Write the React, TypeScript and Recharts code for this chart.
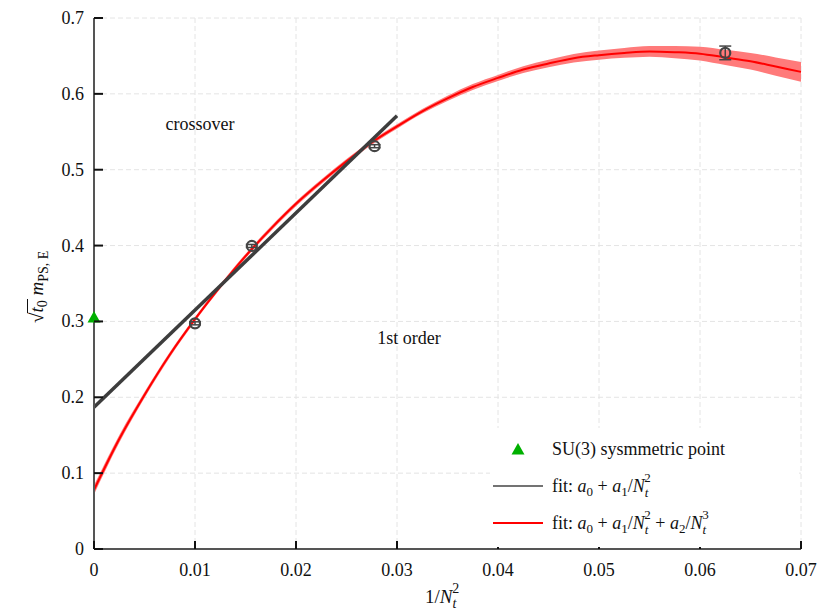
import React from 'react';
import { ComposedChart, XAxis, YAxis, CartesianGrid, Line, Area, Scatter, ErrorBar } from 'recharts';

const FONT = "'Liberation Serif', 'Times New Roman', serif";

const xTicks = [0, 0.01, 0.02, 0.03, 0.04, 0.05, 0.06, 0.07];
const yTicks = [0, 0.1, 0.2, 0.3, 0.4, 0.5, 0.6, 0.7];

// lattice data points (1/Nt^2 for Nt = 10, 8, 6, 4)
const latticeX = [0.01, 0.015625, 0.027778, 0.0625];
const latticeY = [0.2975, 0.3995, 0.531, 0.654];
const latticeErr = [0.002, 0.002, 0.002, 0.009];

// SU(3) symmetric point
const su3X = [0];
const su3Y = [0.3045];

// linear fit a0 + a1/Nt^2
const linFitX = [0, 0.03];
const linFitY = [0.187, 0.571];

// fit a0 + a1/Nt^2 + a2/Nt^3
const cubicFitX = [0, 0.0025, 0.005, 0.0075, 0.01, 0.0125, 0.015, 0.0175, 0.02, 0.0225, 0.025, 0.0275, 0.03, 0.0325, 0.035, 0.0375, 0.04, 0.0425, 0.045, 0.0475, 0.05, 0.0525, 0.055, 0.0575, 0.06, 0.0625, 0.065, 0.0675, 0.07];
const cubicFitY = [0.078, 0.145, 0.203, 0.256, 0.303, 0.346, 0.386, 0.422, 0.455, 0.484, 0.511, 0.536, 0.557, 0.577, 0.594, 0.609, 0.621, 0.632, 0.640, 0.647, 0.651, 0.654, 0.656, 0.655, 0.653, 0.648, 0.643, 0.636, 0.629];
const cubicFitErr = [0.006, 0.005, 0.004, 0.0035, 0.003, 0.003, 0.003, 0.003, 0.003, 0.003, 0.003, 0.003, 0.003, 0.003, 0.0035, 0.004, 0.004, 0.0045, 0.005, 0.0055, 0.006, 0.0065, 0.007, 0.008, 0.009, 0.010, 0.011, 0.012, 0.013];

const latticeData = latticeX.map((x, i) => ({ x, y: latticeY[i], err: latticeErr[i] }));
const su3Data = su3X.map((x, i) => ({ x, y: su3Y[i] }));
const linData = linFitX.map((x, i) => ({ x, y: linFitY[i] }));
const cubicData = cubicFitX.map((x, i) => ({
  x,
  y: cubicFitY[i],
  band: [cubicFitY[i] - cubicFitErr[i], cubicFitY[i] + cubicFitErr[i]],
}));

const fmt = (v: number) => (v === 0 ? '0' : String(Number(v.toFixed(2))));

const BottomTick = (props: any) => {
  const { x, y, payload } = props;
  return (
    <g>
      <line x1={x} x2={x} y1={y} y2={y - 8} stroke="#111" strokeWidth={2} />
      <text x={x} y={y + 27} textAnchor="middle" fontFamily={FONT} fontSize={18} fill="#111">
        {fmt(payload.value)}
      </text>
    </g>
  );
};

const TopTick = (props: any) => {
  const { x, y } = props;
  return <line x1={x} x2={x} y1={y} y2={y + 8} stroke="#111" strokeWidth={2} />;
};

const LeftTick = (props: any) => {
  const { x, y, payload } = props;
  return (
    <g>
      <line x1={x} x2={x + 9} y1={y} y2={y} stroke="#111" strokeWidth={2} />
      <text x={x - 10} y={y + 6} textAnchor="end" fontFamily={FONT} fontSize={18} fill="#111">
        {fmt(payload.value)}
      </text>
    </g>
  );
};

const RightTick = (props: any) => {
  const { x, y } = props;
  return <line x1={x} x2={x - 9} y1={y} y2={y} stroke="#111" strokeWidth={2} />;
};

const OpenCircle = (props: any) => {
  const { cx, cy } = props;
  return <circle cx={cx} cy={cy} r={5} fill="none" stroke="#444" strokeWidth={2.2} />;
};

const Triangle = (props: any) => {
  const { cx, cy } = props;
  return (
    <polygon
      points={`${cx},${cy - 7} ${cx - 6.5},${cy + 4.5} ${cx + 6.5},${cy + 4.5}`}
      fill="#00b000"
    />
  );
};

const Overlay = () => (
  <svg
    width={818}
    height={610}
    style={{ position: 'absolute', left: 0, top: 0, pointerEvents: 'none' }}
    fontFamily={FONT}
    fontSize={18}
  >
    <text x={200} y={130} textAnchor="middle" fill="#111">crossover</text>
    <text x={409} y={344} textAnchor="middle" fill="#111">1st order</text>

    {/* y-axis label */}
    <g transform="translate(43,323) rotate(-90)">
      <text x={0} y={0} fontSize={19} fill="#111">
        <tspan>√</tspan>
        <tspan fontStyle="italic">t</tspan>
        <tspan fontSize={14} dy={4}>0</tspan>
        <tspan dy={-4}> </tspan>
        <tspan fontStyle="italic">m</tspan>
        <tspan fontSize={14} dy={5}>PS, E</tspan>
      </text>
      <line x1={9.8} x2={24} y1={-15.5} y2={-15.5} stroke="#111" strokeWidth={1} />
    </g>

    {/* x-axis label */}
    <text x={425} y={603} fill="#111" fontSize={19}>
      <tspan>1/</tspan>
      <tspan fontStyle="italic">N</tspan>
      <tspan fontStyle="italic" fontSize={14} dy={5}>t</tspan>
      <tspan fontSize={14} dx={-4} dy={-15}>2</tspan>
    </text>

    {/* legend */}
    <rect x={490} y={428} width={309} height={119} fill="#fff" />
    <polygon points="518,443 511.5,454.5 524.5,454.5" fill="#00b000" />
    <text x={552} y={455} fill="#111">SU(3) sysmmetric point</text>

    <line x1={493} x2={543} y1={486} y2={486} stroke="#444" strokeWidth={1.5} />
    <text x={552} y={492} fill="#111">
      <tspan>fit: </tspan>
      <tspan fontStyle="italic">a</tspan>
      <tspan fontSize={13} dy={4}>0</tspan>
      <tspan dy={-4}> + </tspan>
      <tspan fontStyle="italic">a</tspan>
      <tspan fontSize={13} dy={4}>1</tspan>
      <tspan dy={-4}>/</tspan>
      <tspan fontStyle="italic">N</tspan>
      <tspan fontStyle="italic" fontSize={13} dy={5}>t</tspan>
      <tspan fontSize={13} dx={-4} dy={-15}>2</tspan>
    </text>

    <line x1={493} x2={543} y1={523} y2={523} stroke="#ff0000" strokeWidth={2} />
    <text x={552} y={529} fill="#111">
      <tspan>fit: </tspan>
      <tspan fontStyle="italic">a</tspan>
      <tspan fontSize={13} dy={4}>0</tspan>
      <tspan dy={-4}> + </tspan>
      <tspan fontStyle="italic">a</tspan>
      <tspan fontSize={13} dy={4}>1</tspan>
      <tspan dy={-4}>/</tspan>
      <tspan fontStyle="italic">N</tspan>
      <tspan fontStyle="italic" fontSize={13} dy={5}>t</tspan>
      <tspan fontSize={13} dx={-4} dy={-15}>2</tspan>
      <tspan dy={10}> + </tspan>
      <tspan fontStyle="italic">a</tspan>
      <tspan fontSize={13} dy={4}>2</tspan>
      <tspan dy={-4}>/</tspan>
      <tspan fontStyle="italic">N</tspan>
      <tspan fontStyle="italic" fontSize={13} dy={5}>t</tspan>
      <tspan fontSize={13} dx={-4} dy={-15}>3</tspan>
    </text>
  </svg>
);

export default function App() {
  return (
    <div style={{ position: 'absolute', left: 0, top: 0, width: 818, height: 610, background: '#fff' }}>
      <ComposedChart
        width={818}
        height={610}
        margin={{ top: 18, right: 17, bottom: 0, left: 0 }}
        style={{ fontFamily: FONT }}
      >
        <CartesianGrid stroke="#e4e4e4" strokeDasharray="5 3" horizontalValues={yTicks} verticalValues={xTicks} />
        <XAxis
          dataKey="x"
          type="number"
          domain={[0, 0.07]}
          ticks={xTicks}
          height={61}
          tickSize={0}
          tickMargin={0}
          tick={<BottomTick />}
          axisLine={{ stroke: '#555', strokeWidth: 2 }}
          tickLine={false}
          interval={0}
        />
        <XAxis
          xAxisId="top"
          orientation="top"
          dataKey="x"
          type="number"
          domain={[0, 0.07]}
          ticks={xTicks}
          height={0}
          tickSize={0}
          tickMargin={0}
          tick={<TopTick />}
          axisLine={{ stroke: '#111', strokeWidth: 2 }}
          tickLine={false}
          interval={0}
        />
        <YAxis
          type="number"
          domain={[0, 0.7]}
          ticks={yTicks}
          width={94}
          tickSize={0}
          tickMargin={0}
          tick={<LeftTick />}
          axisLine={{ stroke: '#555', strokeWidth: 2 }}
          tickLine={false}
          interval={0}
        />
        <YAxis
          yAxisId="r"
          orientation="right"
          type="number"
          domain={[0, 0.7]}
          ticks={yTicks}
          width={0}
          tickSize={0}
          tickMargin={0}
          tick={<RightTick />}
          axisLine={{ stroke: '#111', strokeWidth: 2 }}
          tickLine={false}
          interval={0}
        />
        <Area
          data={cubicData}
          dataKey="band"
          type="monotone"
          fill="#ff7a7a"
          fillOpacity={1}
          stroke="none"
          isAnimationActive={false}
        />
        <Line
          data={cubicData}
          dataKey="y"
          type="monotone"
          stroke="#ff0000"
          strokeWidth={2}
          dot={false}
          isAnimationActive={false}
        />
        <Line
          data={linData}
          dataKey="y"
          type="linear"
          stroke="#3d3d3d"
          strokeWidth={3.5}
          dot={false}
          isAnimationActive={false}
        />
        <Scatter data={latticeData} dataKey="y" shape={<OpenCircle />} isAnimationActive={false}>
          <ErrorBar dataKey="err" direction="y" width={6} stroke="#444" strokeWidth={1.5} isAnimationActive={false} />
        </Scatter>
        <Scatter data={su3Data} dataKey="y" shape={<Triangle />} isAnimationActive={false} />
      </ComposedChart>
      <Overlay />
    </div>
  );
}
